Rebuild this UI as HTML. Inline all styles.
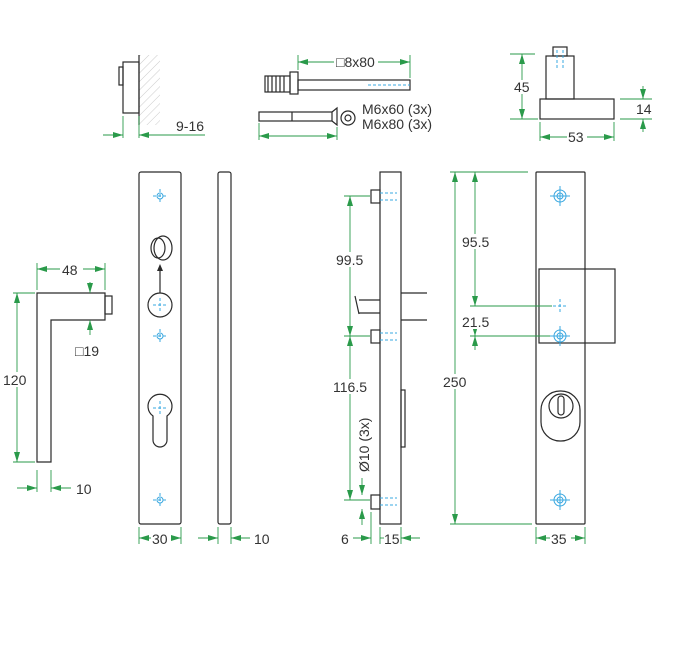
<!DOCTYPE html>
<html><head><meta charset="utf-8"><style>
html,body{margin:0;padding:0;background:#fff;width:690px;height:645px;overflow:hidden}
svg{display:block}
text{font-family:"Liberation Sans",sans-serif;font-size:14px;fill:#333}
.k{stroke:#2a2a2a;stroke-width:1.2;fill:none}
.g{stroke:#2a9a4a;stroke-width:0.9;fill:none}
.b{stroke:#3aa8e0;stroke-width:1;fill:none}
.bd{stroke:#3aa8e0;stroke-width:1;fill:none;stroke-dasharray:3 2}
.w{fill:#fff}
</style></head><body>
<svg width="690" height="645" viewBox="0 0 690 645" xmlns="http://www.w3.org/2000/svg">
<defs>
<marker id="a" viewBox="0 0 10 6" refX="10" refY="3" markerWidth="10" markerHeight="6" orient="auto-start-reverse" markerUnits="userSpaceOnUse"><path d="M0,0 L10,3 L0,6 z" fill="#2a9a4a"/></marker>
<pattern id="h" width="6" height="6" patternUnits="userSpaceOnUse" patternTransform="rotate(45)"><line x1="0" y1="0" x2="0" y2="6" stroke="#ccc" stroke-width="1"/></pattern>
<g id="cr"><line x1="-7" y1="0" x2="7" y2="0" class="bd"/><line x1="0" y1="-7" x2="0" y2="7" class="bd"/><circle r="3" class="b"/></g>
<g id="cr2"><line x1="-10" y1="0" x2="10" y2="0" class="b"/><line x1="0" y1="-10" x2="0" y2="10" class="b"/><circle r="6" class="b"/><circle r="3" class="b"/></g>
</defs>

<rect x="139" y="55" width="21" height="70" fill="url(#h)"/>
<line x1="139" y1="55" x2="139" y2="125" class="k" stroke="#999"/>
<rect x="123" y="62" width="16" height="51" class="k"/>
<rect x="119" y="67" width="4" height="18" class="k"/>
<line x1="123" y1="116" x2="123" y2="138" class="g"/>
<line x1="139" y1="116" x2="139" y2="138" class="g"/>
<line x1="103" y1="135" x2="123" y2="135" class="g" marker-end="url(#a)"/>
<line x1="205" y1="135" x2="139" y2="135" class="g" marker-end="url(#a)"/>
<text x="176" y="131" font-size="11">9-16</text>

<rect x="265" y="76" width="25" height="16" class="k"/>
<path d="M268 76 v16 M272 76 v16 M276 76 v16 M280 76 v16 M284 76 v16" class="k" stroke-width="0.6"/>
<rect x="290" y="72" width="8" height="22" class="k"/>
<rect x="298" y="80" width="112" height="10" class="k"/>
<line x1="368" y1="85" x2="410" y2="85" class="bd"/>
<line x1="298" y1="55" x2="298" y2="70" class="g"/>
<line x1="410" y1="55" x2="410" y2="78" class="g"/>
<line x1="334" y1="62" x2="298" y2="62" class="g" marker-end="url(#a)"/>
<line x1="378" y1="62" x2="410" y2="62" class="g" marker-end="url(#a)"/>
<text x="336" y="67">□8x80</text>
<rect x="259" y="112" width="73" height="9" class="k"/>
<line x1="292" y1="112" x2="292" y2="121" class="k"/>
<path d="M332 112 L337 108 L337 125 L332 121" class="k"/>
<circle cx="348" cy="118" r="7" class="k"/><circle cx="348" cy="118" r="3" class="k"/>
<text x="362" y="114" font-size="13">M6x60 (3x)</text>
<text x="362" y="129" font-size="13">M6x80 (3x)</text>
<line x1="259" y1="123" x2="259" y2="140" class="g"/>
<line x1="337" y1="127" x2="337" y2="140" class="g"/>
<line x1="259" y1="136" x2="337" y2="136" class="g" marker-start="url(#a)" marker-end="url(#a)"/>

<rect x="540" y="99" width="74" height="20" class="k"/>
<rect x="546" y="56" width="28" height="43" class="k"/>
<rect x="553" y="47" width="14" height="9" class="k"/>
<line x1="557" y1="50" x2="557" y2="70" class="bd"/><line x1="563" y1="50" x2="563" y2="70" class="bd"/>
<line x1="510" y1="54" x2="535" y2="54" class="g"/>
<line x1="510" y1="119" x2="538" y2="119" class="g"/>
<line x1="522" y1="54" x2="522" y2="119" class="g" marker-start="url(#a)" marker-end="url(#a)"/>
<rect x="512" y="80" width="20" height="14" class="w"/>
<text x="514" y="92">45</text>
<line x1="620" y1="99" x2="652" y2="99" class="g"/>
<line x1="620" y1="119" x2="652" y2="119" class="g"/>
<line x1="643" y1="86" x2="643" y2="99" class="g" marker-end="url(#a)"/>
<line x1="643" y1="132" x2="643" y2="119" class="g" marker-end="url(#a)"/>
<text x="636" y="114">14</text>
<line x1="540" y1="122" x2="540" y2="141" class="g"/>
<line x1="614" y1="122" x2="614" y2="141" class="g"/>
<line x1="540" y1="137" x2="614" y2="137" class="g" marker-start="url(#a)" marker-end="url(#a)"/>
<rect x="567" y="130" width="20" height="14" class="w"/>
<text x="568" y="142">53</text>

<path d="M37 293 H105 V320 H51 V462 H37 Z" class="k"/>
<rect x="105" y="296" width="7" height="18" class="k"/>
<line x1="37" y1="263" x2="37" y2="290" class="g"/>
<line x1="105" y1="263" x2="105" y2="290" class="g"/>
<line x1="37" y1="269" x2="105" y2="269" class="g" marker-start="url(#a)" marker-end="url(#a)"/>
<rect x="60" y="262" width="23" height="14" class="w"/>
<text x="62" y="275">48</text>
<line x1="13" y1="293" x2="35" y2="293" class="g"/>
<line x1="13" y1="462" x2="35" y2="462" class="g"/>
<line x1="17" y1="293" x2="17" y2="462" class="g" marker-start="url(#a)" marker-end="url(#a)"/>
<rect x="3" y="372" width="28" height="15" class="w"/>
<text x="3" y="385">120</text>
<line x1="90" y1="282" x2="90" y2="293" class="g" marker-end="url(#a)"/>
<line x1="90" y1="335" x2="90" y2="320" class="g" marker-end="url(#a)"/>
<text x="75" y="356">□19</text>
<line x1="37" y1="470" x2="37" y2="492" class="g"/>
<line x1="51" y1="470" x2="51" y2="492" class="g"/>
<line x1="17" y1="488" x2="37" y2="488" class="g" marker-end="url(#a)"/>
<line x1="71" y1="488" x2="51" y2="488" class="g" marker-end="url(#a)"/>
<text x="76" y="494">10</text>

<rect x="139" y="172" width="42" height="352" rx="2" class="k"/>
<use href="#cr" x="160" y="196"/><use href="#cr" x="160" y="336"/><use href="#cr" x="160" y="500"/>
<ellipse cx="158" cy="248" rx="7" ry="10" class="k"/>
<ellipse cx="163" cy="248" rx="9" ry="12" class="k"/>
<line x1="160" y1="293" x2="160" y2="268" stroke="#2a2a2a" stroke-width="1.2"/>
<path d="M157 271 L160 264 L163 271 Z" fill="#2a2a2a"/>
<circle cx="160" cy="305" r="12" class="k"/>
<line x1="153" y1="305" x2="167" y2="305" class="bd"/><line x1="160" y1="298" x2="160" y2="312" class="bd"/>
<path d="M153 416 A12 12 0 1 1 167 416 V440 A7 7 0 0 1 153 440 Z" class="k"/>
<line x1="153" y1="408" x2="167" y2="408" class="bd"/><line x1="160" y1="401" x2="160" y2="415" class="bd"/>
<line x1="139" y1="527" x2="139" y2="544" class="g"/>
<line x1="181" y1="527" x2="181" y2="544" class="g"/>
<line x1="139" y1="538" x2="181" y2="538" class="g" marker-start="url(#a)" marker-end="url(#a)"/>
<rect x="151" y="531" width="20" height="14" class="w"/>
<text x="152" y="544">30</text>

<rect x="218" y="172" width="13" height="352" rx="2" class="k"/>
<line x1="218" y1="527" x2="218" y2="544" class="g"/>
<line x1="231" y1="527" x2="231" y2="544" class="g"/>
<line x1="198" y1="538" x2="218" y2="538" class="g" marker-end="url(#a)"/>
<line x1="250" y1="538" x2="231" y2="538" class="g" marker-end="url(#a)"/>
<text x="254" y="544">10</text>

<rect x="380" y="172" width="21" height="352" class="k"/>
<rect x="371" y="190" width="9" height="13" class="k"/>
<rect x="371" y="330" width="9" height="13" class="k"/>
<rect x="371" y="495" width="9" height="14" class="k"/>
<g class="bd"><line x1="380" y1="193" x2="397" y2="193"/><line x1="380" y1="200" x2="397" y2="200"/>
<line x1="380" y1="333" x2="397" y2="333"/><line x1="380" y1="340" x2="397" y2="340"/>
<line x1="380" y1="498" x2="397" y2="498"/><line x1="380" y1="505" x2="397" y2="505"/></g>
<line x1="359" y1="300" x2="380" y2="300" class="k"/>
<line x1="359" y1="313" x2="380" y2="313" class="k"/>
<line x1="355" y1="296" x2="359" y2="314" class="k"/>
<line x1="401" y1="293" x2="427" y2="293" class="k"/>
<line x1="401" y1="320" x2="427" y2="320" class="k"/>
<rect x="401" y="390" width="4" height="57" class="k"/>
<line x1="344" y1="196" x2="370" y2="196" class="g"/>
<line x1="344" y1="336" x2="370" y2="336" class="g"/>
<line x1="344" y1="500" x2="370" y2="500" class="g"/>
<line x1="350" y1="196" x2="350" y2="336" class="g" marker-start="url(#a)" marker-end="url(#a)"/>
<line x1="350" y1="336" x2="350" y2="500" class="g" marker-start="url(#a)" marker-end="url(#a)"/>
<rect x="335" y="252" width="34" height="15" class="w"/>
<text x="336" y="265">99.5</text>
<rect x="332" y="379" width="38" height="15" class="w"/>
<text x="333" y="392">116.5</text>
<text x="0" y="0" transform="translate(369,472) rotate(-90)">Ø10 (3x)</text>
<line x1="362" y1="478" x2="362" y2="495" class="g" marker-end="url(#a)"/>
<line x1="362" y1="525" x2="362" y2="509" class="g" marker-end="url(#a)"/>
<line x1="371" y1="512" x2="371" y2="544" class="g"/>
<line x1="380" y1="527" x2="380" y2="544" class="g"/>
<line x1="401" y1="527" x2="401" y2="544" class="g"/>
<text x="341" y="544">6</text>
<line x1="353" y1="538" x2="371" y2="538" class="g" marker-end="url(#a)"/>
<line x1="380" y1="538" x2="384" y2="538" class="g"/>
<text x="384" y="544">15</text>
<line x1="420" y1="538" x2="401" y2="538" class="g" marker-end="url(#a)"/>

<rect x="536" y="172" width="49" height="352" rx="1" class="k"/>
<rect x="539" y="269" width="76" height="74" class="k"/>
<use href="#cr2" x="560" y="196"/><use href="#cr2" x="560" y="336"/><use href="#cr2" x="560" y="500"/>
<line x1="553" y1="306" x2="567" y2="306" class="bd"/><line x1="560" y1="299" x2="560" y2="313" class="bd"/>
<rect x="541" y="391" width="39" height="50" rx="19" class="k" stroke-width="1.6"/>
<circle cx="561" cy="406" r="12" class="k" stroke-width="1.6"/>
<rect x="558" y="396" width="6" height="19" rx="3" class="k" stroke-width="1.4"/>
<line x1="450" y1="172" x2="528" y2="172" class="g"/>
<line x1="450" y1="524" x2="532" y2="524" class="g"/>
<line x1="470" y1="306" x2="552" y2="306" class="g"/>
<line x1="470" y1="336" x2="550" y2="336" class="g"/>
<line x1="455" y1="172" x2="455" y2="524" class="g" marker-start="url(#a)" marker-end="url(#a)"/>
<line x1="475" y1="172" x2="475" y2="306" class="g" marker-start="url(#a)" marker-end="url(#a)"/>
<line x1="475" y1="320" x2="475" y2="336" class="g" marker-end="url(#a)"/>
<line x1="475" y1="350" x2="475" y2="336" class="g" marker-end="url(#a)"/>
<rect x="442" y="374" width="28" height="15" class="w"/>
<text x="443" y="387">250</text>
<rect x="461" y="234" width="32" height="15" class="w"/>
<text x="462" y="247">95.5</text>
<rect x="461" y="314" width="32" height="15" class="w"/>
<text x="462" y="327">21.5</text>
<line x1="536" y1="527" x2="536" y2="544" class="g"/>
<line x1="585" y1="527" x2="585" y2="544" class="g"/>
<line x1="536" y1="538" x2="585" y2="538" class="g" marker-start="url(#a)" marker-end="url(#a)"/>
<rect x="550" y="531" width="21" height="14" class="w"/>
<text x="551" y="544">35</text>
</svg>
</body></html>
